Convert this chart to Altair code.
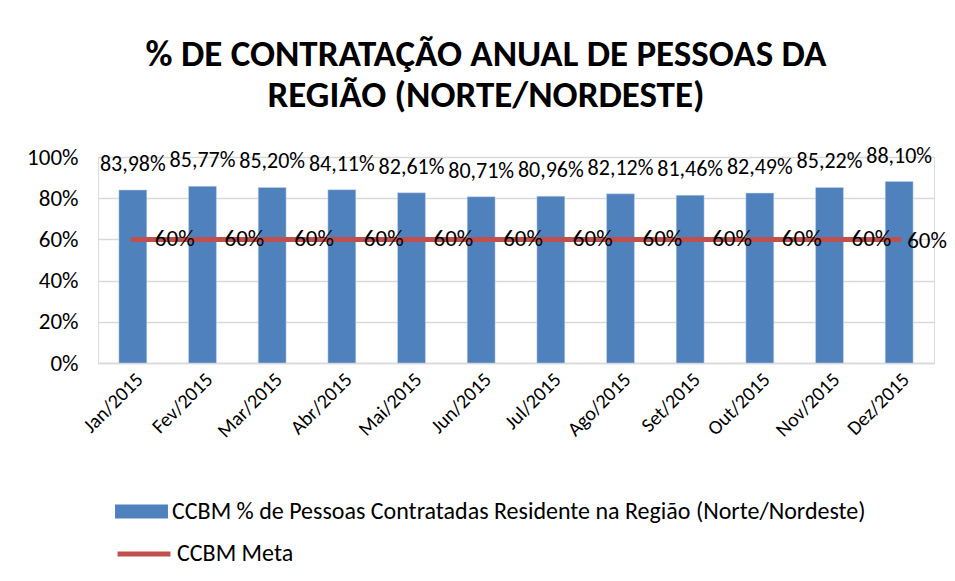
import altair as alt
import pandas as pd

months = ["Jan/2015", "Fev/2015", "Mar/2015", "Abr/2015", "Mai/2015", "Jun/2015",
          "Jul/2015", "Ago/2015", "Set/2015", "Out/2015", "Nov/2015", "Dez/2015"]
pct_values = [83.98, 85.77, 85.20, 84.11, 82.61, 80.71, 80.96, 82.12, 81.46, 82.49, 85.22, 88.10]
meta_values = [60, 60, 60, 60, 60, 60, 60, 60, 60, 60, 60, 60]

bar_name = "CCBM % de Pessoas Contratadas Residente na Região (Norte/Nordeste)"
line_name = "CCBM Meta"

FONT = "Carlito, 'Liberation Sans Narrow', 'DejaVu Sans Condensed', sans-serif"

df = pd.DataFrame({
    "mes": months,
    "pct": [v / 100 for v in pct_values],
    "meta": [v / 100 for v in meta_values],
    "pct_label": [f"{v:.2f}".replace(".", ",") + "%" for v in pct_values],
    "meta_label": [f"{v:.0f}%" for v in meta_values],
    "serie_bar": bar_name,
    "serie_line": line_name,
    "is_last": [False] * 11 + [True],
})

x = alt.X("mes:N", sort=months, title=None,
          scale=alt.Scale(paddingInner=0.6, paddingOuter=0.3),
          axis=alt.Axis(labelAngle=-45, labelFontSize=20, labelFont=FONT, labelColor="#000000",
                        ticks=False, domainColor="#D9D9D9", domainWidth=1.5, labelPadding=6))

y_axis = alt.Axis(format="%", values=[0, 0.2, 0.4, 0.6, 0.8, 1.0], labelFontSize=23, labelFont=FONT,
                  labelColor="#000000", ticks=False, domain=False, gridColor="#D9D9D9",
                  gridWidth=1.5, labelPadding=20)

base = alt.Chart(df)

bars = base.mark_bar(color="#4F81BD", stroke="#C6D6EA", strokeWidth=0.5).encode(
    x=x,
    y=alt.Y("pct:Q", scale=alt.Scale(domain=[0, 1]), axis=y_axis, title=None),
    color=alt.Color("serie_bar:N", scale=alt.Scale(domain=[bar_name], range=["#4F81BD"]),
                    legend=alt.Legend(orient="none", legendX=17, legendY=328, title=None,
                                      symbolType="M-1,-0.26H1V0.26H-1Z", symbolSize=2800,
                                      symbolStrokeWidth=0, labelFontSize=24, labelFont=FONT,
                                      labelColor="#000000", labelOffset=4, labelLimit=900)),
)

bar_labels = base.mark_text(baseline="bottom", dy=-14, fontSize=22, font=FONT, color="#000000").encode(
    x=x, y=alt.Y("pct:Q"), text="pct_label:N"
)

line = base.mark_line(strokeWidth=5, strokeCap="round").encode(
    x=x,
    y=alt.Y("meta:Q"),
    stroke=alt.Stroke("serie_line:N", scale=alt.Scale(domain=[line_name], range=["#C0504D"]),
                      legend=alt.Legend(orient="none", legendX=17, legendY=368, title=None,
                                        symbolType="stroke", symbolSize=2800, symbolStrokeWidth=5,
                                        labelFontSize=24, labelFont=FONT, labelColor="#000000",
                                        labelOffset=4)),
)

meta_labels = base.transform_filter("!datum.is_last").mark_text(
    align="left", baseline="middle", dx=22, fontSize=23, font=FONT, color="#000000"
).encode(x=x, y=alt.Y("meta:Q"), text="meta_label:N")

meta_label_last = base.transform_filter("datum.is_last").mark_text(
    align="left", baseline="middle", dx=8, dy=2, fontSize=23, font=FONT, color="#000000"
).encode(x=x, y=alt.Y("meta:Q"), text="meta_label:N")

chart = alt.layer(bars, line, bar_labels, meta_labels, meta_label_last).properties(
    width=836,
    height=206,
    autosize=alt.AutoSizeParams(type="none"),
    padding={"left": 90, "top": 149, "right": 13, "bottom": 210},
    title=alt.TitleParams(
        text=["% DE CONTRATAÇÃO ANUAL DE PESSOAS DA", "REGIÃO (NORTE/NORDESTE)"],
        fontSize=37, font=FONT, fontWeight="bold", color="#000000",
        anchor="middle", dx=-30, offset=30, lineHeight=41,
    ),
).configure_view(stroke=None).configure(background="#FFFFFF")

chart.save("out.html", embed_options={"renderer": "svg", "actions": False})
